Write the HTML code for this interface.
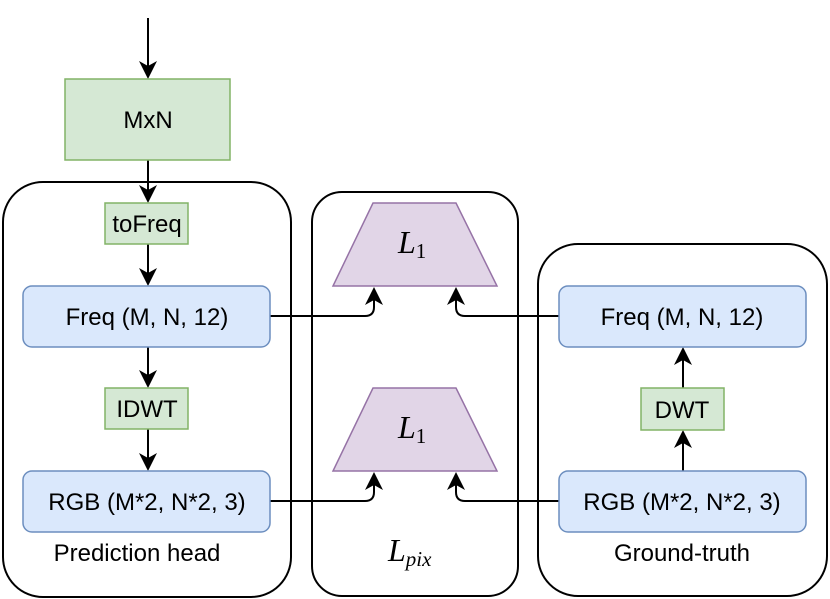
<!DOCTYPE html>
<html><head><style>body{margin:0;background:#fff}svg{display:block}
.t{font-family:"Liberation Sans",sans-serif;font-size:24px;fill:#000;text-anchor:middle}
.m{font-family:"Liberation Serif",serif;font-style:italic;font-size:32px;fill:#000}
.s{font-style:normal;font-size:21px}
.si{font-size:21px}
</style></head><body>
<svg width="830" height="599" viewBox="0 0 830 599" xmlns="http://www.w3.org/2000/svg">
<g fill="none" stroke="#000" stroke-width="2">
<rect x="3" y="182" width="288" height="415" rx="40"/>
<rect x="312" y="192" width="206" height="404" rx="30"/>
<rect x="538" y="244" width="289" height="352" rx="40"/>
</g>
<g stroke="#000" stroke-width="2" fill="none">
<line x1="148" y1="18" x2="148" y2="70"/>
<line x1="148" y1="160" x2="148" y2="194"/>
<line x1="148" y1="244" x2="148" y2="277"/>
<line x1="148" y1="347" x2="148" y2="379"/>
<line x1="148" y1="429" x2="148" y2="462"/>
<line x1="683" y1="471" x2="683" y2="439"/>
<line x1="683" y1="388" x2="683" y2="356"/>
<path d="M270,316 H365 Q374,316 374,307 V296"/>
<path d="M559,316 H465 Q456,316 456,307 V296"/>
<path d="M270,501 H365 Q374,501 374,492 V481"/>
<path d="M559,501 H465 Q456,501 456,492 V481"/>
</g>
<g fill="#000">
<path d="M148,79 l-9,-18 l9,5 l9,-5 z"/>
<path d="M148,203 l-9,-18 l9,5 l9,-5 z"/>
<path d="M148,286 l-9,-18 l9,5 l9,-5 z"/>
<path d="M148,388 l-9,-18 l9,5 l9,-5 z"/>
<path d="M148,471 l-9,-18 l9,5 l9,-5 z"/>
<path d="M683,430 l-9,18 l9,-5 l9,5 z"/>
<path d="M683,347 l-9,18 l9,-5 l9,5 z"/>
<path d="M374,287 l-9,18 l9,-5 l9,5 z"/>
<path d="M456,287 l-9,18 l9,-5 l9,5 z"/>
<path d="M374,472 l-9,18 l9,-5 l9,5 z"/>
<path d="M456,472 l-9,18 l9,-5 l9,5 z"/>
</g>
<g fill="#d5e8d4" stroke="#82b366" stroke-width="1.5">
<rect x="65" y="79" width="165" height="81"/>
<rect x="105" y="203" width="83" height="41"/>
<rect x="105" y="388" width="83" height="41"/>
<rect x="641" y="388" width="83" height="42"/>
</g>
<g fill="#dae8fc" stroke="#6c8ebf" stroke-width="1.5">
<rect x="23" y="286" width="247" height="61" rx="9"/>
<rect x="23" y="471" width="247" height="61" rx="9"/>
<rect x="559" y="286" width="247" height="61" rx="9"/>
<rect x="559" y="471" width="247" height="61" rx="9"/>
</g>
<g fill="#e1d5e7" stroke="#9673a6" stroke-width="1.5">
<polygon points="373,203 456,203 497,286 333,286"/>
<polygon points="373,388 456,388 497,471 333,471"/>
</g>
<text class="t" x="148" y="128">MxN</text>
<text class="t" x="147" y="232">toFreq</text>
<text class="t" x="147" y="417">IDWT</text>
<text class="t" x="147" y="325">Freq (M, N, 12)</text>
<text class="t" x="147" y="510">RGB (M*2, N*2, 3)</text>
<text class="t" x="682" y="325">Freq (M, N, 12)</text>
<text class="t" x="682" y="510">RGB (M*2, N*2, 3)</text>
<text class="t" x="682" y="418">DWT</text>
<text class="t" x="137" y="561">Prediction head</text>
<text class="t" x="682" y="561">Ground-truth</text>
<text class="m" x="398" y="253">L<tspan class="s" dy="5">1</tspan></text>
<text class="m" x="398" y="438">L<tspan class="s" dy="5">1</tspan></text>
<text class="m" x="388" y="561">L<tspan class="si" dy="5">pix</tspan></text>
</svg>
</body></html>
